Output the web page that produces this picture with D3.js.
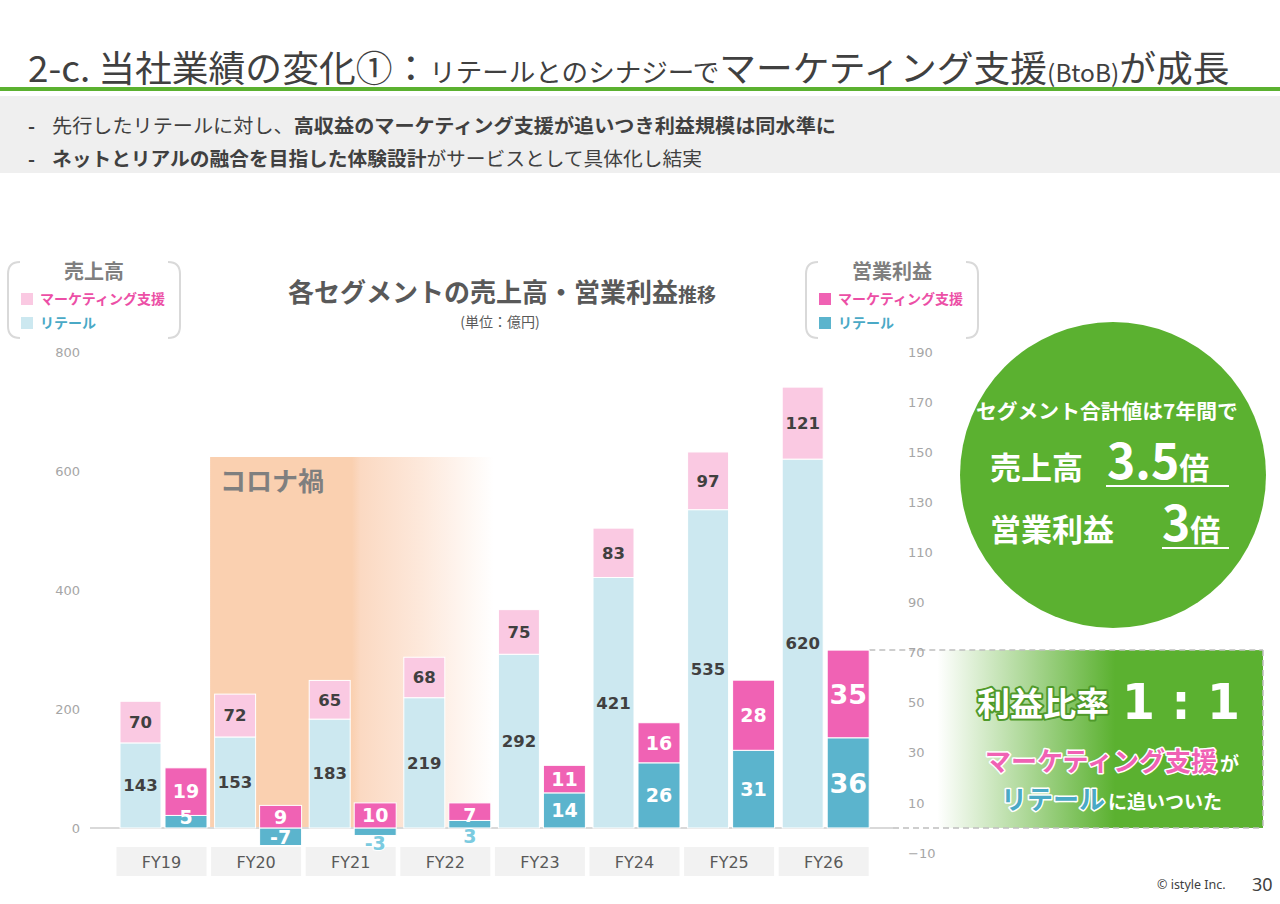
<!DOCTYPE html>
<html><head><meta charset="utf-8">
<script src="https://cdn.jsdelivr.net/npm/d3@7"></script>
<style>
html,body{margin:0;padding:0;background:#fff;}
svg{display:block;}
</style>
</head><body>
<svg id="c" width="1280" height="904"></svg>
<script>
const categories = ["FY19","FY20","FY21","FY22","FY23","FY24","FY25","FY26"];
const revenueRetail = [143,153,183,219,292,421,535,620];
const revenueMarketing = [70,72,65,68,75,83,97,121];
const profitRetail = [5,-7,-3,3,14,26,31,36];
const profitMarketing = [19,9,10,7,11,16,28,35];
const leftTicks = [0,200,400,600,800];
const rightTicks = [-10,10,30,50,70,90,110,130,150,170,190];

const JP = "'Noto Sans CJK JP','Noto Sans',sans-serif";
const NUM = "'DejaVu Sans','Noto Sans',sans-serif";
const C = {
  revM:"#fac9e2", revR:"#cce8f0", proM:"#f062b4", proR:"#5bb4cd",
  green:"#5bb130", text:"#404040", gray:"#7f7f7f", tick:"#a6a6a6",
  pinkTxt:"#ec4fa6", tealTxt:"#4aa9c6"
};

const svg = d3.select("#c");
const defs = svg.append("defs");

function fitX(sel, x0, w){
  const bw = sel.node().getBBox().width;
  const s = w / bw;
  sel.attr("transform", `translate(${x0},0) scale(${s},1) translate(${-x0},0)`);
}

// ---------- Header ----------
const title = svg.append("text").attr("x",28).attr("y",82)
  .attr("font-family",JP).attr("fill",C.text);
[["2-c. 当社業績の変化①：",36],["リテールとのシナジーで",26],["マーケティング支援",36],["(BtoB)",24],["が成長",36]]
  .forEach(([t,s])=> title.append("tspan").attr("font-size",s).text(t));
fitX(title,28,1202);

svg.append("rect").attr("x",0).attr("y",87).attr("width",1280).attr("height",4).attr("fill",C.green);
svg.append("rect").attr("x",0).attr("y",96).attr("width",1280).attr("height",77).attr("fill","#efefef");

function bullet(y, parts, w){
  svg.append("text").attr("x",28).attr("y",y).attr("font-family",JP).attr("font-size",19)
    .attr("font-weight","bold").attr("fill",C.text).text("-");
  const t = svg.append("text").attr("x",52).attr("y",y).attr("font-family",JP).attr("font-size",19).attr("fill",C.text);
  parts.forEach(([s,b])=> t.append("tspan").attr("font-weight",b?"bold":"normal").text(s));
  fitX(t,52,w);
}
bullet(133,[["先行したリテールに対し、",0],["高収益のマーケティング支援が追いつき利益規模は同水準に",1]],784);
bullet(166,[["ネットとリアルの融合を目指した体験設計",1],["がサービスとして具体化し結実",0]],650);

// ---------- Scales ----------
const x = d3.scaleBand().domain(categories).range([113.5, 113.5+8*94.6]).padding(0);
const yL = d3.scaleLinear().domain([0,800]).range([828,352]);
const yR = d3.scaleLinear().domain([-10,190]).range([853,352]);

// ---------- Corona band ----------
const cg = defs.append("linearGradient").attr("id","corona").attr("x1","0").attr("x2","1").attr("y1","0").attr("y2","0");
[[0,"#fad0b0"],[0.5,"#fad0b0"],[0.53,"#fbd9c2"],[0.75,"#fde9dc"],[1,"#ffffff"]]
  .forEach(([o,c])=>cg.append("stop").attr("offset",o).attr("stop-color",c));
const cx0 = x("FY20")+2, cx1 = x("FY22")+x.bandwidth()+2;
svg.append("rect").attr("x",cx0).attr("y",457).attr("width",cx1-cx0).attr("height",yL(0)-457).attr("fill","url(#corona)");
svg.append("text").attr("x",cx0+10).attr("y",491).attr("font-family",JP).attr("font-weight","bold")
  .attr("font-size",26).attr("fill",C.gray).text("コロナ禍");

// ---------- Green ratio box ----------
const gg = defs.append("linearGradient").attr("id","gbox").attr("x1","0").attr("x2","1").attr("y1","0").attr("y2","0");
[[0,"#ffffff"],[0.12,"#ffffff"],[0.6,C.green],[1,C.green]]
  .forEach(([o,c])=>gg.append("stop").attr("offset",o).attr("stop-color",c));
const topTotal = yR(profitRetail[7]+profitMarketing[7]);
const bx0 = 893, bx1 = 1263, by1 = yR(0);
svg.append("rect").attr("x",bx0).attr("y",topTotal).attr("width",bx1-bx0).attr("height",by1-topTotal).attr("fill","url(#gbox)");
const dash = {stroke:"#bfbfbf","stroke-width":1.5,"stroke-dasharray":"6,4",fill:"none"};
function dl(x1,y1,x2,y2){const l=svg.append("line").attr("x1",x1).attr("y1",y1).attr("x2",x2).attr("y2",y2);Object.entries(dash).forEach(([k,v])=>l.attr(k,v));}
dl(x("FY26")+x.bandwidth()-1, topTotal, bx1, topTotal);
dl(bx1, topTotal, bx1, by1);
dl(bx0, by1, bx1, by1);

// ---------- Baseline ----------
svg.append("line").attr("x1",90).attr("x2",893).attr("y1",yL(0)).attr("y2",yL(0)).attr("stroke","#d9d9d9").attr("stroke-width",2);

// ---------- Axes (tick labels only) ----------
const axL = svg.append("g").attr("transform","translate(80,0)")
  .call(d3.axisLeft(yL).tickValues(leftTicks).tickSize(0).tickPadding(0));
const axR = svg.append("g").attr("transform","translate(908,0)")
  .call(d3.axisRight(yR).tickValues(rightTicks).tickSize(0).tickPadding(0));
[axL,axR].forEach(a=>{
  a.select(".domain").remove();
  a.selectAll("text").attr("font-family",NUM).attr("font-size",13).attr("fill",C.tick);
});

// ---------- Category labels ----------
const cat = svg.append("g");
cat.selectAll("rect").data(categories).join("rect")
  .attr("x",d=>x(d)+3).attr("y",847).attr("width",90).attr("height",29).attr("fill","#f2f2f2");
cat.selectAll("text").data(categories).join("text")
  .attr("x",d=>x(d)+48).attr("y",868).attr("text-anchor","middle")
  .attr("font-family",NUM).attr("font-size",16).attr("fill","#595959").text(d=>d);

// ---------- Revenue bars ----------
const rev = categories.map((c,i)=>({c,i,r:revenueRetail[i],m:revenueMarketing[i]}));
const gRev = svg.append("g");
gRev.selectAll("rect.rr").data(rev).join("rect").attr("class","rr")
  .attr("x",d=>x(d.c)+6.5).attr("width",41)
  .attr("y",d=>yL(d.r)).attr("height",d=>yL(0)-yL(d.r))
  .attr("fill",C.revR).attr("stroke","#fff").attr("stroke-width",1);
gRev.selectAll("rect.rm").data(rev).join("rect").attr("class","rm")
  .attr("x",d=>x(d.c)+6.5).attr("width",41)
  .attr("y",d=>yL(d.r+d.m)).attr("height",d=>yL(d.r)-yL(d.r+d.m))
  .attr("fill",C.revM).attr("stroke","#fff").attr("stroke-width",1);
gRev.selectAll("text.lr").data(rev).join("text").attr("class","lr")
  .attr("x",d=>x(d.c)+27).attr("y",d=>(yL(0)+yL(d.r))/2).attr("dy","0.36em")
  .attr("text-anchor","middle").attr("font-family",NUM).attr("font-weight","bold")
  .attr("font-size",16.5).attr("fill",C.text).text(d=>d.r);
gRev.selectAll("text.lm").data(rev).join("text").attr("class","lm")
  .attr("x",d=>x(d.c)+27).attr("y",d=>(yL(d.r)+yL(d.r+d.m))/2).attr("dy","0.36em")
  .attr("text-anchor","middle").attr("font-family",NUM).attr("font-weight","bold")
  .attr("font-size",16.5).attr("fill",C.text).text(d=>d.m);

// ---------- Profit bars ----------
const pro = categories.map((c,i)=>({c,i,r:profitRetail[i],m:profitMarketing[i],base:Math.max(0,profitRetail[i])}));
const gPro = svg.append("g");
const px = d=>x(d.c)+51.5;
gPro.selectAll("rect.pr").data(pro).join("rect").attr("class","pr")
  .attr("x",px).attr("width",42)
  .attr("y",d=>Math.min(yR(0),yR(d.r))).attr("height",d=>Math.abs(yR(0)-yR(d.r)))
  .attr("fill",C.proR).attr("stroke","#fff").attr("stroke-width",1);
gPro.selectAll("rect.pm").data(pro).join("rect").attr("class","pm")
  .attr("x",px).attr("width",42)
  .attr("y",d=>yR(d.base+d.m)).attr("height",d=>yR(d.base)-yR(d.base+d.m))
  .attr("fill",C.proM).attr("stroke","#fff").attr("stroke-width",1);
const pSize = d=> d.i===categories.length-1 ? 27 : 19;
gPro.selectAll("text.pm").data(pro).join("text").attr("class","pm")
  .attr("x",d=>px(d)+21).attr("y",d=>(yR(d.base)+yR(d.base+d.m))/2 + (d.m<8?3:0)).attr("dy","0.36em")
  .attr("text-anchor","middle").attr("font-family",NUM).attr("font-weight","bold")
  .attr("font-size",pSize).attr("fill","#fff").text(d=>d.m);
gPro.selectAll("text.pr").data(pro).join("text").attr("class","pr")
  .attr("x",d=>px(d)+21)
  .attr("y",d=>{
    const a=yR(0), b=yR(d.r);
    if (Math.abs(d.r)<=3) return Math.max(a,b)+8;
    if (Math.abs(d.r)<=5) return (a+b)/2-5;
    return (a+b)/2;
  }).attr("dy","0.36em")
  .attr("text-anchor","middle").attr("font-family",NUM).attr("font-weight","bold")
  .attr("font-size",pSize)
  .attr("fill",d=>Math.abs(d.r)<=3?"#7ccbe0":"#fff")
  .attr("stroke",d=>Math.abs(d.r)<=3?"#fff":"none").attr("stroke-width",2).attr("paint-order","stroke")
  .text(d=>d.r);

// ---------- Chart title ----------
const ct = svg.append("text").attr("x",502).attr("y",302).attr("text-anchor","middle")
  .attr("font-family",JP).attr("font-weight","bold").attr("fill","#595959");
ct.append("tspan").attr("font-size",26).text("各セグメントの売上高・営業利益");
ct.append("tspan").attr("font-size",19).text("推移");
svg.append("text").attr("x",500).attr("y",327).attr("text-anchor","middle")
  .attr("font-family",JP).attr("font-size",14).attr("fill","#595959").text("(単位：億円)");

// ---------- Legends ----------
function legend(x0, x1, head, c1, c2){
  const g = svg.append("g");
  const y0=262, y1=338, r=12;
  g.append("path").attr("d",`M${x0+r},${y0} Q${x0},${y0} ${x0},${y0+r} L${x0},${y1-r} Q${x0},${y1} ${x0+r},${y1}`)
    .attr("fill","none").attr("stroke","#d9d9d9").attr("stroke-width",2);
  g.append("path").attr("d",`M${x1-r},${y0} Q${x1},${y0} ${x1},${y0+r} L${x1},${y1-r} Q${x1},${y1} ${x1-r},${y1}`)
    .attr("fill","none").attr("stroke","#d9d9d9").attr("stroke-width",2);
  g.append("text").attr("x",(x0+x1)/2).attr("y",279).attr("text-anchor","middle")
    .attr("font-family",JP).attr("font-weight","bold").attr("font-size",20).attr("fill",C.gray).text(head);
  const items=[["マーケティング支援",c1,C.pinkTxt,299],["リテール",c2,C.tealTxt,323]];
  items.forEach(([t,sq,tc,yc])=>{
    g.append("rect").attr("x",x0+13).attr("y",yc-6).attr("width",12).attr("height",12).attr("fill",sq);
    g.append("text").attr("x",x0+32).attr("y",yc+5).attr("font-family",JP).attr("font-weight","bold")
      .attr("font-size",14).attr("fill",tc).text(t);
  });
}
legend(8,180,"売上高",C.revM,C.revR);
legend(806,978,"営業利益",C.proM,C.proR);

// ---------- Circle ----------
svg.append("circle").attr("cx",1113).attr("cy",475).attr("r",153).attr("fill",C.green);
const c1 = svg.append("text").attr("x",976).attr("y",419).attr("font-family",JP).attr("font-weight","bold")
  .attr("font-size",20).attr("fill","#fff").text("セグメント合計値は7年間で");
fitX(c1,976,262);
svg.append("text").attr("x",990).attr("y",479).attr("font-family",JP).attr("font-weight","bold")
  .attr("font-size",31).attr("fill","#fff").text("売上高");
const t35 = svg.append("text").attr("x",1107).attr("y",479).attr("font-family",JP).attr("font-weight","bold").attr("fill","#fff");
t35.append("tspan").attr("font-size",48).text("3.5");
t35.append("tspan").attr("font-size",30).text("倍");
svg.append("line").attr("x1",1106).attr("x2",1229).attr("y1",486).attr("y2",486).attr("stroke","#fff").attr("stroke-width",2);
svg.append("text").attr("x",990).attr("y",541).attr("font-family",JP).attr("font-weight","bold")
  .attr("font-size",31).attr("fill","#fff").text("営業利益");
const t3 = svg.append("text").attr("x",1162).attr("y",541).attr("font-family",JP).attr("font-weight","bold").attr("fill","#fff");
t3.append("tspan").attr("font-size",48).text("3");
t3.append("tspan").attr("font-size",30).text("倍");
svg.append("line").attr("x1",1162).attr("x2",1229).attr("y1",548).attr("y2",548).attr("stroke","#fff").attr("stroke-width",2);

// ---------- Box text ----------
svg.append("text").attr("x",977).attr("y",716).attr("font-family",JP).attr("font-weight","bold")
  .attr("font-size",33).attr("fill","#fff").attr("stroke","#4f9a2a").attr("stroke-width",4)
  .attr("paint-order","stroke").attr("stroke-linejoin","round").text("利益比率");
const r11 = svg.append("text").attr("x",1122).attr("y",719).attr("font-family",NUM).attr("font-weight","bold")
  .attr("font-size",50).attr("fill","#fff").text("1 : 1");
fitX(r11,1122,118);
const mk = svg.append("text").attr("x",985).attr("y",771).attr("font-family",JP).attr("font-weight","bold")
  .attr("fill",C.proM).attr("stroke","#fff").attr("stroke-width",3).attr("paint-order","stroke").attr("stroke-linejoin","round");
mk.append("tspan").attr("font-size",26).text("マーケティング支援");
mk.append("tspan").attr("font-size",19).attr("fill","#fff").attr("stroke","none").attr("dx",3).text("が");
const rt = svg.append("text").attr("x",1001).attr("y",809).attr("font-family",JP).attr("font-weight","bold")
  .attr("fill",C.tealTxt).attr("stroke","#fff").attr("stroke-width",3).attr("paint-order","stroke").attr("stroke-linejoin","round");
rt.append("tspan").attr("font-size",26).text("リテール");
rt.append("tspan").attr("font-size",19).attr("fill","#fff").attr("stroke","none").attr("dx",3).text("に追いついた");

// ---------- Footer ----------
svg.append("text").attr("x",1157).attr("y",889).attr("font-family","'Noto Sans',sans-serif")
  .attr("font-size",12.5).attr("fill",C.text).text("© istyle Inc.");
svg.append("text").attr("x",1252).attr("y",891).attr("font-family","'Noto Sans',sans-serif")
  .attr("font-size",18).attr("fill",C.text).text("30");
</script>
</body></html>
